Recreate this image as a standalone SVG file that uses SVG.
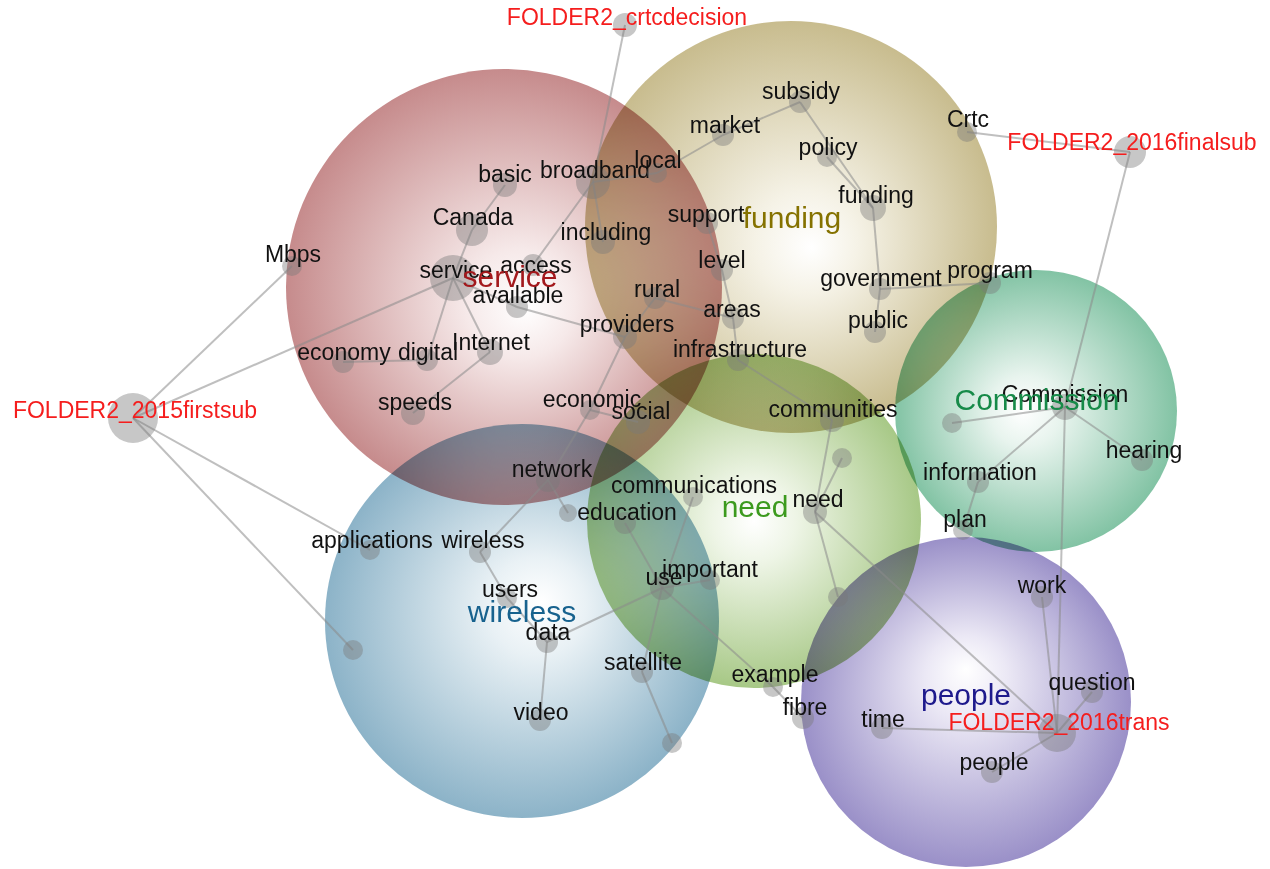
<svg xmlns="http://www.w3.org/2000/svg" width="1270" height="869" viewBox="0 0 1270 869">
<style>
.bg{fill:#ffffff}
.cl{mix-blend-mode:multiply}
.e{stroke:#8a8a8a;stroke-opacity:0.55;stroke-width:2;fill:none}
.d{fill:#7a7a7a;fill-opacity:0.42}
.t{font-family:"Liberation Sans",Arial,sans-serif;font-size:23px;fill:#111;text-anchor:middle}
.f{font-family:"Liberation Sans",Arial,sans-serif;font-size:23px;fill:#f51d1d;text-anchor:middle}
.c{font-family:"Liberation Sans",Arial,sans-serif;font-size:30px;text-anchor:middle}
</style>
<defs>
<radialGradient id="gS" cx="50%" cy="50%" r="50%" fx="55%" fy="55%"><stop offset="0" stop-color="#ffffff"/><stop offset="0.25" stop-color="#f6e9e9"/><stop offset="1" stop-color="#c68b8c"/></radialGradient>
<radialGradient id="gF" cx="50%" cy="50%" r="50%" fx="55%" fy="55%"><stop offset="0" stop-color="#ffffff"/><stop offset="0.25" stop-color="#f5f2e6"/><stop offset="1" stop-color="#c8bc8e"/></radialGradient>
<radialGradient id="gC" cx="50%" cy="50%" r="50%" fx="45%" fy="50%"><stop offset="0" stop-color="#ffffff"/><stop offset="0.25" stop-color="#e8f4ee"/><stop offset="1" stop-color="#82c3a4"/></radialGradient>
<radialGradient id="gN" cx="50%" cy="50%" r="50%" fx="50%" fy="50%"><stop offset="0" stop-color="#ffffff"/><stop offset="0.25" stop-color="#eef5e6"/><stop offset="1" stop-color="#a7c886"/></radialGradient>
<radialGradient id="gW" cx="50%" cy="50%" r="50%" fx="55%" fy="45%"><stop offset="0" stop-color="#ffffff"/><stop offset="0.25" stop-color="#e9f1f5"/><stop offset="1" stop-color="#8cb3c8"/></radialGradient>
<radialGradient id="gP" cx="50%" cy="50%" r="50%" fx="50%" fy="40%"><stop offset="0" stop-color="#ffffff"/><stop offset="0.25" stop-color="#ebe8f5"/><stop offset="1" stop-color="#9a90c8"/></radialGradient>
</defs>
<rect class="bg" x="0" y="0" width="1270" height="869"/>
<g id="clusters">
<g id="cluster-service"><circle class="cl" cx="504" cy="287" r="218" fill="url(#gS)"/></g>
<g id="cluster-funding"><circle class="cl" cx="791" cy="227" r="206" fill="url(#gF)"/></g>
<g id="cluster-commission"><circle class="cl" cx="1036" cy="411" r="141" fill="url(#gC)"/></g>
<g id="cluster-need"><circle class="cl" cx="754" cy="521" r="167" fill="url(#gN)"/></g>
<g id="cluster-wireless"><circle class="cl" cx="522" cy="621" r="197" fill="url(#gW)"/></g>
<g id="cluster-people"><circle class="cl" cx="966" cy="702" r="165" fill="url(#gP)"/></g>
</g>
<g id="connectors">
<line class="e" x1="133" y1="418" x2="292" y2="266"/>
<line class="e" x1="133" y1="418" x2="453" y2="278"/>
<line class="e" x1="133" y1="418" x2="370" y2="550"/>
<line class="e" x1="133" y1="418" x2="353" y2="650"/>
<line class="e" x1="453" y1="278" x2="472" y2="230"/>
<line class="e" x1="472" y1="230" x2="505" y2="185"/>
<line class="e" x1="453" y1="278" x2="427" y2="360"/>
<line class="e" x1="453" y1="278" x2="490" y2="352"/>
<line class="e" x1="453" y1="278" x2="517" y2="307"/>
<line class="e" x1="517" y1="307" x2="625" y2="337"/>
<line class="e" x1="343" y1="362" x2="427" y2="360"/>
<line class="e" x1="490" y1="352" x2="413" y2="413"/>
<line class="e" x1="533" y1="265" x2="593" y2="182"/>
<line class="e" x1="625" y1="25" x2="593" y2="182"/>
<line class="e" x1="593" y1="182" x2="603" y2="242"/>
<line class="e" x1="593" y1="182" x2="657" y2="173"/>
<line class="e" x1="657" y1="173" x2="723" y2="135"/>
<line class="e" x1="723" y1="135" x2="800" y2="102"/>
<line class="e" x1="800" y1="102" x2="873" y2="208"/>
<line class="e" x1="827" y1="157" x2="873" y2="208"/>
<line class="e" x1="873" y1="208" x2="880" y2="289"/>
<line class="e" x1="880" y1="289" x2="875" y2="332"/>
<line class="e" x1="880" y1="289" x2="990" y2="283"/>
<line class="e" x1="967" y1="132" x2="1130" y2="152"/>
<line class="e" x1="1130" y1="152" x2="1065" y2="407"/>
<line class="e" x1="1065" y1="407" x2="952" y2="423"/>
<line class="e" x1="1065" y1="407" x2="1142" y2="460"/>
<line class="e" x1="1065" y1="407" x2="978" y2="482"/>
<line class="e" x1="978" y1="482" x2="963" y2="530"/>
<line class="e" x1="1065" y1="407" x2="1057" y2="733"/>
<line class="e" x1="1057" y1="733" x2="1042" y2="597"/>
<line class="e" x1="1057" y1="733" x2="1092" y2="692"/>
<line class="e" x1="1057" y1="733" x2="882" y2="728"/>
<line class="e" x1="1057" y1="733" x2="992" y2="772"/>
<line class="e" x1="1057" y1="733" x2="815" y2="512"/>
<line class="e" x1="815" y1="512" x2="832" y2="420"/>
<line class="e" x1="815" y1="512" x2="842" y2="458"/>
<line class="e" x1="815" y1="512" x2="838" y2="597"/>
<line class="e" x1="832" y1="420" x2="738" y2="360"/>
<line class="e" x1="738" y1="360" x2="733" y2="318"/>
<line class="e" x1="733" y1="318" x2="722" y2="270"/>
<line class="e" x1="722" y1="270" x2="707" y2="223"/>
<line class="e" x1="655" y1="298" x2="733" y2="318"/>
<line class="e" x1="655" y1="298" x2="625" y2="337"/>
<line class="e" x1="625" y1="337" x2="590" y2="410"/>
<line class="e" x1="590" y1="410" x2="548" y2="480"/>
<line class="e" x1="590" y1="410" x2="638" y2="422"/>
<line class="e" x1="548" y1="480" x2="480" y2="552"/>
<line class="e" x1="548" y1="480" x2="568" y2="513"/>
<line class="e" x1="480" y1="552" x2="507" y2="598"/>
<line class="e" x1="507" y1="598" x2="547" y2="642"/>
<line class="e" x1="547" y1="642" x2="540" y2="720"/>
<line class="e" x1="547" y1="642" x2="662" y2="588"/>
<line class="e" x1="662" y1="588" x2="693" y2="497"/>
<line class="e" x1="662" y1="588" x2="625" y2="523"/>
<line class="e" x1="662" y1="588" x2="710" y2="580"/>
<line class="e" x1="662" y1="588" x2="642" y2="672"/>
<line class="e" x1="662" y1="588" x2="773" y2="687"/>
<line class="e" x1="773" y1="687" x2="803" y2="718"/>
<line class="e" x1="642" y1="672" x2="672" y2="743"/>
</g>
<g id="nodes">
<g id="n-firstsub"><circle class="d" cx="133" cy="418" r="25"/><text class="f" x="135" y="418">FOLDER2_2015firstsub</text></g>
<g id="n-crtcdecision"><circle class="d" cx="625" cy="25" r="12"/><text class="f" x="627" y="25">FOLDER2_crtcdecision</text></g>
<g id="n-finalsub"><circle class="d" cx="1130" cy="152" r="16"/><text class="f" x="1132" y="150">FOLDER2_2016finalsub</text></g>
<g id="n-trans"><circle class="d" cx="1057" cy="733" r="19"/><text class="f" x="1059" y="730">FOLDER2_2016trans</text></g>
<g id="n-mbps"><circle class="d" cx="292" cy="266" r="10"/><text class="t" x="293" y="262">Mbps</text></g>
<g id="n-basic"><circle class="d" cx="505" cy="185" r="12"/><text class="t" x="505" y="182">basic</text></g>
<g id="n-broadband"><circle class="d" cx="593" cy="182" r="17"/><text class="t" x="595" y="178">broadband</text></g>
<g id="n-local"><circle class="d" cx="657" cy="173" r="10"/><text class="t" x="658" y="168">local</text></g>
<g id="n-market"><circle class="d" cx="723" cy="135" r="11"/><text class="t" x="725" y="133">market</text></g>
<g id="n-subsidy"><circle class="d" cx="800" cy="102" r="11"/><text class="t" x="801" y="99">subsidy</text></g>
<g id="n-policy"><circle class="d" cx="827" cy="157" r="10"/><text class="t" x="828" y="155">policy</text></g>
<g id="n-crtc"><circle class="d" cx="967" cy="132" r="10"/><text class="t" x="968" y="127">Crtc</text></g>
<g id="n-funding"><circle class="d" cx="873" cy="208" r="13"/><text class="t" x="876" y="203">funding</text></g>
<g id="n-canada"><circle class="d" cx="472" cy="230" r="16"/><text class="t" x="473" y="225">Canada</text></g>
<g id="n-including"><circle class="d" cx="603" cy="242" r="12"/><text class="t" x="606" y="240">including</text></g>
<g id="n-support"><circle class="d" cx="707" cy="223" r="11"/><text class="t" x="706" y="222">support</text></g>
<g id="n-service"><circle class="d" cx="453" cy="278" r="23"/><text class="t" x="456" y="278">service</text></g>
<g id="n-access"><circle class="d" cx="533" cy="265" r="11"/><text class="t" x="536" y="273">access</text></g>
<g id="n-available"><circle class="d" cx="517" cy="307" r="11"/><text class="t" x="518" y="303">available</text></g>
<g id="n-level"><circle class="d" cx="722" cy="270" r="11"/><text class="t" x="722" y="268">level</text></g>
<g id="n-rural"><circle class="d" cx="655" cy="298" r="11"/><text class="t" x="657" y="297">rural</text></g>
<g id="n-areas"><circle class="d" cx="733" cy="318" r="11"/><text class="t" x="732" y="317">areas</text></g>
<g id="n-government"><circle class="d" cx="880" cy="289" r="11"/><text class="t" x="881" y="286">government</text></g>
<g id="n-program"><circle class="d" cx="990" cy="283" r="11"/><text class="t" x="990" y="278">program</text></g>
<g id="n-public"><circle class="d" cx="875" cy="332" r="11"/><text class="t" x="878" y="328">public</text></g>
<g id="n-providers"><circle class="d" cx="625" cy="337" r="12"/><text class="t" x="627" y="332">providers</text></g>
<g id="n-infrastructure"><circle class="d" cx="738" cy="360" r="11"/><text class="t" x="740" y="357">infrastructure</text></g>
<g id="n-economy"><circle class="d" cx="343" cy="362" r="11"/><text class="t" x="344" y="360">economy</text></g>
<g id="n-digital"><circle class="d" cx="427" cy="360" r="11"/><text class="t" x="428" y="360">digital</text></g>
<g id="n-internet"><circle class="d" cx="490" cy="352" r="13"/><text class="t" x="491" y="350">Internet</text></g>
<g id="n-speeds"><circle class="d" cx="413" cy="413" r="12"/><text class="t" x="415" y="410">speeds</text></g>
<g id="n-economic"><circle class="d" cx="590" cy="410" r="10"/><text class="t" x="592" y="407">economic</text></g>
<g id="n-social"><circle class="d" cx="638" cy="422" r="12"/><text class="t" x="641" y="419">social</text></g>
<g id="n-communities"><circle class="d" cx="832" cy="420" r="12"/><text class="t" x="833" y="417">communities</text></g>
<g id="n-commission"><circle class="d" cx="1065" cy="407" r="13"/><text class="t" x="1065" y="402">Commission</text></g>
<g id="n-u1"><circle class="d" cx="952" cy="423" r="10"/></g>
<g id="n-hearing"><circle class="d" cx="1142" cy="460" r="11"/><text class="t" x="1144" y="458">hearing</text></g>
<g id="n-information"><circle class="d" cx="978" cy="482" r="11"/><text class="t" x="980" y="480">information</text></g>
<g id="n-plan"><circle class="d" cx="963" cy="530" r="10"/><text class="t" x="965" y="527">plan</text></g>
<g id="n-u2"><circle class="d" cx="842" cy="458" r="10"/></g>
<g id="n-need"><circle class="d" cx="815" cy="512" r="12"/><text class="t" x="818" y="507">need</text></g>
<g id="n-network"><circle class="d" cx="548" cy="480" r="12"/><text class="t" x="552" y="477">network</text></g>
<g id="n-communications"><circle class="d" cx="693" cy="497" r="10"/><text class="t" x="694" y="493">communications</text></g>
<g id="n-education"><circle class="d" cx="625" cy="523" r="11"/><text class="t" x="627" y="520">education</text></g>
<g id="n-u3"><circle class="d" cx="568" cy="513" r="9"/></g>
<g id="n-applications"><circle class="d" cx="370" cy="550" r="10"/><text class="t" x="372" y="548">applications</text></g>
<g id="n-wireless"><circle class="d" cx="480" cy="552" r="11"/><text class="t" x="483" y="548">wireless</text></g>
<g id="n-users"><circle class="d" cx="507" cy="598" r="10"/><text class="t" x="510" y="597">users</text></g>
<g id="n-use"><circle class="d" cx="662" cy="588" r="12"/><text class="t" x="664" y="585">use</text></g>
<g id="n-important"><circle class="d" cx="710" cy="580" r="10"/><text class="t" x="710" y="577">important</text></g>
<g id="n-data"><circle class="d" cx="547" cy="642" r="11"/><text class="t" x="548" y="640">data</text></g>
<g id="n-u4"><circle class="d" cx="353" cy="650" r="10"/></g>
<g id="n-satellite"><circle class="d" cx="642" cy="672" r="11"/><text class="t" x="643" y="670">satellite</text></g>
<g id="n-video"><circle class="d" cx="540" cy="720" r="11"/><text class="t" x="541" y="720">video</text></g>
<g id="n-u5"><circle class="d" cx="672" cy="743" r="10"/></g>
<g id="n-u6"><circle class="d" cx="838" cy="597" r="10"/></g>
<g id="n-work"><circle class="d" cx="1042" cy="597" r="11"/><text class="t" x="1042" y="593">work</text></g>
<g id="n-example"><circle class="d" cx="773" cy="687" r="10"/><text class="t" x="775" y="682">example</text></g>
<g id="n-fibre"><circle class="d" cx="803" cy="718" r="11"/><text class="t" x="805" y="715">fibre</text></g>
<g id="n-time"><circle class="d" cx="882" cy="728" r="11"/><text class="t" x="883" y="727">time</text></g>
<g id="n-question"><circle class="d" cx="1092" cy="692" r="11"/><text class="t" x="1092" y="690">question</text></g>
<g id="n-people"><circle class="d" cx="992" cy="772" r="11"/><text class="t" x="994" y="770">people</text></g>
</g>
<g id="cluster-labels">
<text class="c" x="510" y="287" fill="#a3181c">service</text>
<text class="c" x="792" y="228" fill="#857200">funding</text>
<text class="c" x="1037" y="410" fill="#168a48">Commission</text>
<text class="c" x="755" y="517" fill="#3c9a1e">need</text>
<text class="c" x="522" y="622" fill="#17628e">wireless</text>
<text class="c" x="966" y="705" fill="#1e1a8c">people</text>
</g>
</svg>
